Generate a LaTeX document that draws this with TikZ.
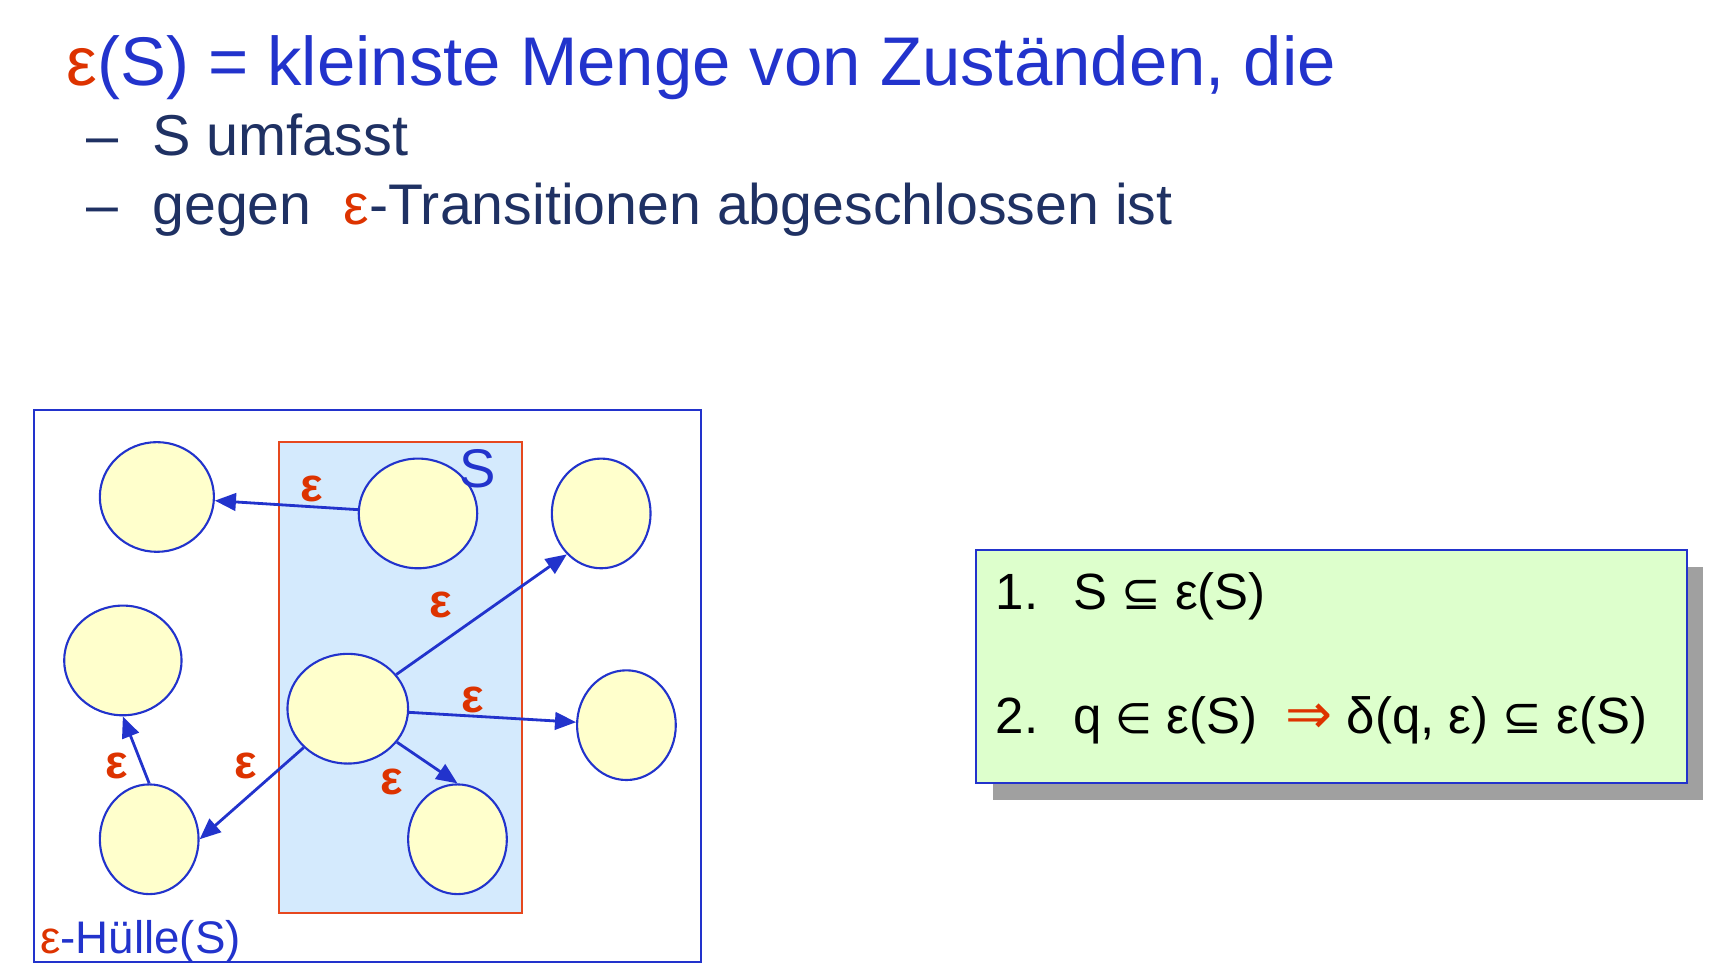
\documentclass[tikz,border=0pt]{standalone}
\usepackage{fontspec}
\setmainfont{Liberation Sans}
\newfontfamily\symfont{DejaVu Sans}
\usetikzlibrary{shapes.geometric,arrows.meta,shadows}

\definecolor{hblau}{RGB}{34,51,204}
\definecolor{dunkelblau}{RGB}{31,49,99}
\definecolor{eprot}{RGB}{221,51,0}
\definecolor{randrot}{RGB}{230,72,30}
\definecolor{hellblau}{RGB}{212,234,253}
\definecolor{hellgelb}{RGB}{255,255,204}
\definecolor{hellgruen}{RGB}{221,255,204}
\definecolor{schatten}{RGB}{160,160,160}

\newcommand{\eps}{{\color{eprot}ε}}
\newcommand{\sym}[2][13.5]{{\symfont\fontsize{#1}{15}\selectfont #2}}
\newcommand{\ux}{0.3121pt}

\tikzset{
  zustand/.style={ellipse, draw=hblau, line width=0.6pt, fill=hellgelb,
    inner sep=0pt, minimum height=100*\ux},
  trans/.style={draw=hblau, line width=0.8pt, -{Triangle[length=6pt,width=5pt]}},
  elabel/.style={text=eprot, font=\fontsize{13.5}{15}\selectfont\bfseries, inner sep=0pt},
  zeile/.style={anchor=base west, inner sep=0pt},
}

\begin{document}
\begin{tikzpicture}[x=0.010971cm,y=-0.010971cm]
\useasboundingbox (0,0) rectangle (1567.8,887.8);

% Ueberschrift
\node[zeile, text=hblau, font=\fontsize{19.6}{23}\selectfont] (titel) at (60,78)
  {\eps(S) = kleinste Menge von Zuständen, die};
\node[zeile, text=dunkelblau, font=\fontsize{16.4}{20}\selectfont] (punkt1) at (78,142)
  {\makebox[18.8pt][l]{–}S umfasst};
\node[zeile, text=dunkelblau, font=\fontsize{16.3}{20}\selectfont] (punkt2) at (78,205)
  {\makebox[18.8pt][l]{–}gegen\ \ \eps-Transitionen abgeschlossen ist};

% eps-Huelle
\draw[hblau, line width=0.6pt] (31,374) rectangle (639,877);
\node[zeile, text=hblau, font=\fontsize{13}{15}\selectfont] (huelle) at (36,869) {\eps-Hülle(S)};

% Menge S
\filldraw[fill=hellblau, draw=randrot, line width=0.6pt] (254,403) rectangle (476,832);

\node[zustand, minimum width=104*\ux] (q1) at (143,453) {};
\node[zustand, minimum width=108*\ux] (q2) at (381,468) {};
\node[zustand, minimum width=90*\ux] (q3) at (548,468) {};
\node[zustand, minimum width=107*\ux] (q4) at (112,602) {};
\node[zustand, minimum width=110*\ux] (q5) at (317,646) {};
\node[zustand, minimum width=90*\ux] (q6) at (571,661) {};
\node[zustand, minimum width=90*\ux] (q7) at (136,765) {};
\node[zustand, minimum width=90*\ux] (q8) at (417,765) {};

\node[text=hblau, font=\fontsize{15.5}{17}\selectfont, inner sep=0pt] (slabel) at (435,427) {S};

\draw[trans] (q2) -- (q1);
\draw[trans] (q5) -- (q3.230);
\draw[trans] (q5) -- (q6);
\draw[trans] (q5) -- (q8.north);
\draw[trans] (q5) -- (q7.east);
\draw[trans] (q7.north) -- (q4.south);

\node[elabel] (e1) at (284,446) {ε};
\node[elabel] (e2) at (402,551) {ε};
\node[elabel] (e3) at (431,638) {ε};
\node[elabel] (e4) at (357,713) {ε};
\node[elabel] (e5) at (224,698) {ε};
\node[elabel] (e6) at (106,698) {ε};

% Regeln
\node[draw=hblau, line width=0.6pt, fill=hellgruen, inner sep=0pt,
  minimum width=648*\ux, minimum height=213*\ux,
  copy shadow={shadow xshift=4.8pt, shadow yshift=-4.8pt, fill=schatten, draw=none}]
  (regeln) at (1213.4,607.6) {};
\node[zeile, font=\fontsize{14.5}{17}\selectfont] (regel1) at (907,556)
  {\makebox[22pt][l]{1.}S \sym{⊆} ε(S)};
\node[zeile, font=\fontsize{14.5}{17}\selectfont] (regel2) at (907,669)
  {\makebox[22pt][l]{2.}q \sym[12]{∈} ε(S)\ \ {\color{eprot}\sym[16]{⇒}} δ(q, ε) \sym{⊆} ε(S)};

\end{tikzpicture}
\end{document}
